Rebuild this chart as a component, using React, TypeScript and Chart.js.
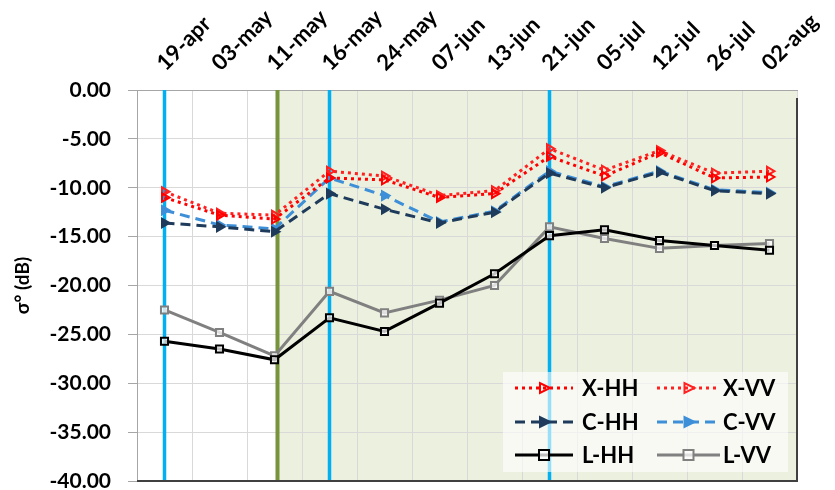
import React, { useEffect, useRef } from "react";
import { Chart, registerables } from "chart.js";

Chart.register(...registerables);

const categories = ["19-apr", "03-may", "11-may", "16-may", "24-may", "07-jun", "13-jun", "21-jun", "05-jul", "12-jul", "26-jul", "02-aug"];
const xHH = [-11.0, -12.8, -13.2, -9.0, -9.2, -11.0, -10.6, -6.8, -8.8, -6.4, -9.0, -8.9];
const xVV = [-10.4, -12.6, -12.8, -8.3, -8.8, -10.8, -10.3, -6.0, -8.2, -6.2, -8.5, -8.3];
const cHH = [-13.6, -14.0, -14.5, -10.6, -12.2, -13.6, -12.5, -8.5, -10.0, -8.4, -10.3, -10.6];
const cVV = [-12.3, -13.8, -14.2, -9.0, -10.8, -13.5, -12.4, -8.3, -9.9, -8.3, -10.2, -10.5];
const lHH = [-25.7, -26.5, -27.6, -23.3, -24.7, -21.8, -18.8, -14.9, -14.3, -15.4, -15.9, -16.4];
const lVV = [-22.5, -24.8, -27.2, -20.6, -22.8, -21.5, -20.0, -14.0, -15.2, -16.2, -15.9, -15.7];
const blueMarkerIdx = [0, 3, 7];
const greenMarkerIdx = 2;

const FONT = "Lato, 'Liberation Sans', sans-serif";

type SeriesStyle = {
  label: string;
  data: number[];
  color: string;
  dash: number[];
  point: string;
  fill: string;
};

const series: SeriesStyle[] = [
  { label: "X-HH", data: xHH, color: "#FF0000", dash: [3, 4], point: "triangle", fill: "rgba(255,255,255,0)" },
  { label: "X-VV", data: xVV, color: "#FF2020", dash: [3, 4], point: "triangle", fill: "rgba(255,255,255,0)" },
  { label: "C-HH", data: cHH, color: "#1F3B5C", dash: [10, 6], point: "triangle", fill: "#1F3B5C" },
  { label: "C-VV", data: cVV, color: "#3D8FD8", dash: [10, 6], point: "triangle", fill: "#3D8FD8" },
  { label: "L-HH", data: lHH, color: "#000000", dash: [], point: "rect", fill: "rgba(255,255,255,0.75)" },
  { label: "L-VV", data: lVV, color: "#808080", dash: [], point: "rect", fill: "rgba(255,255,255,0.75)" },
];

const bgPlugin = {
  id: "bgPlugin",
  beforeDraw(chart: any) {
    const { ctx, chartArea, scales } = chart;
    const { left, top, right, bottom } = chartArea;
    ctx.save();
    ctx.fillStyle = "#FFFFFF";
    ctx.fillRect(left, top, right - left, bottom - top);
    const gx = scales.x.getPixelForValue(greenMarkerIdx) + 3;
    ctx.fillStyle = "#EBF1DE";
    ctx.fillRect(gx, top, right - gx, bottom - top);
    ctx.restore();
  },
  beforeDatasetsDraw(chart: any) {
    const { ctx, chartArea, scales } = chart;
    const { top, bottom } = chartArea;
    ctx.save();
    ctx.lineWidth = 3.5;
    ctx.strokeStyle = "#00B0F0";
    for (const i of blueMarkerIdx) {
      const px = scales.x.getPixelForValue(i);
      ctx.beginPath();
      ctx.moveTo(px, top);
      ctx.lineTo(px, bottom);
      ctx.stroke();
    }
    const gx = scales.x.getPixelForValue(greenMarkerIdx) + 3;
    ctx.strokeStyle = "#77933C";
    ctx.lineWidth = 4;
    ctx.beginPath();
    ctx.moveTo(gx, top);
    ctx.lineTo(gx, bottom);
    ctx.stroke();
    ctx.restore();
  },
  afterDraw(chart: any) {
    const { ctx, chartArea } = chart;
    const { left, top, right, bottom } = chartArea;
    ctx.save();
    ctx.strokeStyle = "#404040";
    ctx.lineWidth = 2;
    ctx.beginPath();
    ctx.moveTo(right, top + 8);
    ctx.lineTo(right, bottom);
    ctx.lineTo(left, bottom);
    ctx.stroke();

    // legend
    const bx = 503, by = 372, bw = 285, bh = 100;
    ctx.fillStyle = "rgba(255,255,255,0.6)";
    ctx.fillRect(bx, by, bw, bh);
    const cols = [
      { x1: 515, x2: 573, tx: 582 },
      { x1: 657, x2: 720, tx: 723 },
    ];
    const rows = [388, 422, 455];
    series.forEach((s, i) => {
      const c = cols[i % 2];
      const y = rows[Math.floor(i / 2)];
      ctx.strokeStyle = s.color;
      ctx.lineWidth = 3;
      ctx.setLineDash(s.dash);
      ctx.beginPath();
      ctx.moveTo(c.x1, y);
      ctx.lineTo(c.x2, y);
      ctx.stroke();
      ctx.setLineDash([]);
      const mx = (c.x1 + c.x2) / 2;
      ctx.lineWidth = 2;
      ctx.fillStyle = s.fill;
      if (s.point === "rect") {
        ctx.fillRect(mx - 5, y - 5, 10, 10);
        ctx.strokeRect(mx - 5, y - 5, 10, 10);
      } else {
        ctx.beginPath();
        ctx.moveTo(mx + 6, y);
        ctx.lineTo(mx - 4, y - 5);
        ctx.lineTo(mx - 4, y + 5);
        ctx.closePath();
        ctx.fill();
        ctx.stroke();
      }
      ctx.fillStyle = "#000";
      ctx.font = `bold 22px ${FONT}`;
      ctx.textBaseline = "middle";
      ctx.textAlign = "left";
      ctx.fillText(s.label, c.tx, y + 1);
    });
    ctx.restore();
  },
};

export default function App() {
  const ref = useRef<HTMLCanvasElement>(null);
  useEffect(() => {
    if (!ref.current) return;
    const chart = new Chart(ref.current, {
      type: "line",
      data: {
        labels: categories,
        datasets: series.map((s) => ({
          label: s.label,
          data: s.data,
          borderColor: s.color,
          backgroundColor: s.fill,
          borderWidth: 3,
          borderDash: s.dash,
          pointStyle: s.point as any,
          pointRotation: s.point === "triangle" ? 90 : 0,
          pointRadius: 5,
          pointBorderWidth: 2,
          pointBorderColor: s.color,
          pointBackgroundColor: s.fill,
          tension: 0,
          fill: false,
        })),
      },
      options: {
        responsive: false,
        animation: false,
        devicePixelRatio: 1,
        layout: { padding: { left: 0, right: 38, top: 0, bottom: 9 } },
        plugins: {
          legend: { display: false },
          tooltip: { enabled: false },
        },
        scales: {
          x: {
            position: "top",
            offset: true,
            grid: { offset: true, color: "#D9D9D9", drawTicks: false, lineWidth: 1 },
            border: { color: "#A6A6A6" },
            ticks: {
              autoSkip: false,
              maxRotation: 45,
              minRotation: 45,
              padding: 14,
              labelOffset: 15,
              color: "#000",
              font: { family: FONT, weight: "bold", size: 22 },
            },
            afterFit: (s: any) => {
              s.height = 90;
              s.paddingLeft = 0;
              s.paddingRight = 0;
            },
          },
          y: {
            min: -40,
            max: 0,
            grid: { color: "#D9D9D9", tickLength: 9, tickColor: "#A6A6A6" },
            border: { color: "#A6A6A6" },
            ticks: {
              stepSize: 5,
              padding: 17,
              color: "#000",
              font: { family: FONT, weight: "bold", size: 21 },
              callback: (v: any) => Number(v).toFixed(2),
            },
            title: {
              display: true,
              text: "σ° (dB)",
              color: "#000",
              padding: { top: 11, bottom: 0 },
              font: { family: FONT, weight: "bold", size: 19 },
            },
            afterFit: (s: any) => {
              s.width = 137;
              s.paddingTop = 0;
              s.paddingBottom = 0;
            },
          },
        },
      },
      plugins: [bgPlugin],
    });
    return () => chart.destroy();
  }, []);
  return (
    <div style={{ position: "absolute", left: 0, top: 0, width: 835, height: 490, background: "#fff" }}>
      <canvas ref={ref} width={835} height={490} style={{ display: "block" }} />
    </div>
  );
}
